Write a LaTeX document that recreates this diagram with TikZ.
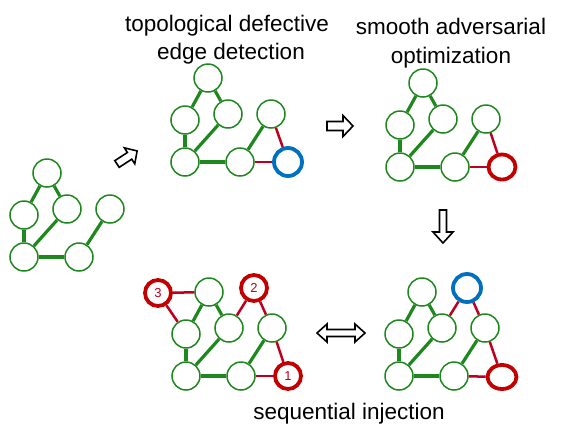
\documentclass[tikz,border=0pt]{standalone}
\usepackage{fontspec}
\setmainfont{Liberation Sans}
\definecolor{gr}{RGB}{30,135,30}
\definecolor{rd}{RGB}{190,0,30}
\definecolor{rdn}{RGB}{195,0,0}
\definecolor{bl}{RGB}{0,112,192}
\tikzset{
  gnode/.style={circle,draw=gr,line width=1.5pt,fill=white,minimum size=28pt,inner sep=0pt},
  rnode/.style={circle,draw=rdn,line width=3.8pt,fill=white,minimum size=26pt,inner sep=0pt,
     text=rd,font=\fontsize{13}{13}\selectfont},
  rell/.style={ellipse,draw=rdn,line width=3.8pt,fill=white,minimum width=27pt,minimum height=25pt,inner sep=0pt},
  bnode/.style={circle,draw=bl,line width=3.8pt,fill=white,minimum size=28pt,inner sep=0pt},
  gedge/.style={draw=gr,line width=3.2pt},
  redge/.style={draw=rd,line width=2.5pt},
  harrow/.style={draw=black,line width=1.6pt,fill=white,line join=miter},
  lbl/.style={font=\fontsize{22.5}{26}\selectfont,anchor=base,inner sep=0pt}
}
\usetikzlibrary{shapes.geometric}
\newcommand{\basegraph}[3]{%
  \begin{scope}[shift={(#2,#3)}]
    \node[gnode] (#1A) at (47,173) {};
    \node[gnode] (#1B) at (24,215) {};
    \node[gnode] (#1C) at (67,209) {};
    \node[gnode] (#1D) at (110,209) {};
    \node[gnode] (#1E) at (24,257) {};
    \node[gnode] (#1F) at (79,257) {};
  \end{scope}}
\newcommand{\greenedges}[1]{%
  \draw[gedge] (#1A) -- (#1B);
  \draw[gedge] (#1A) -- (#1C);
  \draw[gedge] (#1B) -- (#1E);
  \draw[gedge] (#1C) -- (#1E);
  \draw[gedge] (#1E) -- (#1F);
  \draw[gedge] (#1F) -- (#1D);}
\newcommand{\harrowshape}[7]{% x y angle length shafthalf headhalf headlen
  \begin{scope}[shift={(#1,#2)},rotate=#3]
    \draw[harrow] (0,-#5) -- ({#4-#7},-#5) -- ({#4-#7},-#6) -- (#4,0) -- ({#4-#7},#6) -- ({#4-#7},#5) -- (0,#5) -- cycle;
  \end{scope}}
\begin{document}
\begin{tikzpicture}[x=1pt,y=-1pt]
\useasboundingbox (0,0) rectangle (570,440);
% graph 1
\basegraph{a}{0}{0}
\greenedges{a}
% graph 2
\basegraph{b}{161}{-95}
\node[bnode] (bG) at (288,162) {};
\greenedges{b}
\draw[redge] (bD) -- (bG);
\draw[redge] (bF) -- (bG);
% graph 3
\basegraph{c}{376}{-90}
\node[rell] (cG) at (502,167) {};
\greenedges{c}
\draw[redge] (cD) -- (cG);
\draw[redge] (cF) -- (cG);
% graph 4
\basegraph{d}{162}{119}
\node[rnode] (dG) at (288,376) {1};
\node[rnode] (dH) at (254,288) {2};
\node[rnode] (dI) at (158,293) {3};
\greenedges{d}
\draw[redge] (dD) -- (dG);
\draw[redge] (dF) -- (dG);
\draw[redge] (dH) -- (dC);
\draw[redge] (dH) -- (dD);
\draw[redge] (dI) -- (dA);
\draw[redge] (dI) -- (dB);
% graph 5
\basegraph{e}{375}{119}
\node[bnode] (eH) at (467,288) {};
\node[rell,minimum width=29pt,minimum height=24pt] (eG) at (502,377) {};
\greenedges{e}
\draw[redge] (eD) -- (eG);
\draw[redge] (eF) -- (eG);
\draw[redge] (eH) -- (eC);
\draw[redge] (eH) -- (eD);
% arrows
\harrowshape{117}{164}{33}{24}{4}{9.5}{9}
\harrowshape{327}{126}{0}{26}{4.5}{10.5}{10}
\harrowshape{443}{210}{-90}{33}{3.5}{10}{11}
\begin{scope}[shift={(317,333)}]
  \draw[harrow] (0,0) -- (10,-9) -- (10,-3.5) -- (38,-3.5) -- (38,-9) -- (48,0) -- (38,9) -- (38,3.5) -- (10,3.5) -- (10,9) -- cycle;
\end{scope}
% labels
\node[lbl] (t1) at (227,31) {topological defective};
\node[lbl] (t2) at (231,59) {edge detection};
\node[lbl] (t3) at (451,34) {smooth adversarial};
\node[lbl] (t4) at (451,63) {optimization};
\node[lbl] (t5) at (349,419) {sequential injection};
\end{tikzpicture}
\end{document}
